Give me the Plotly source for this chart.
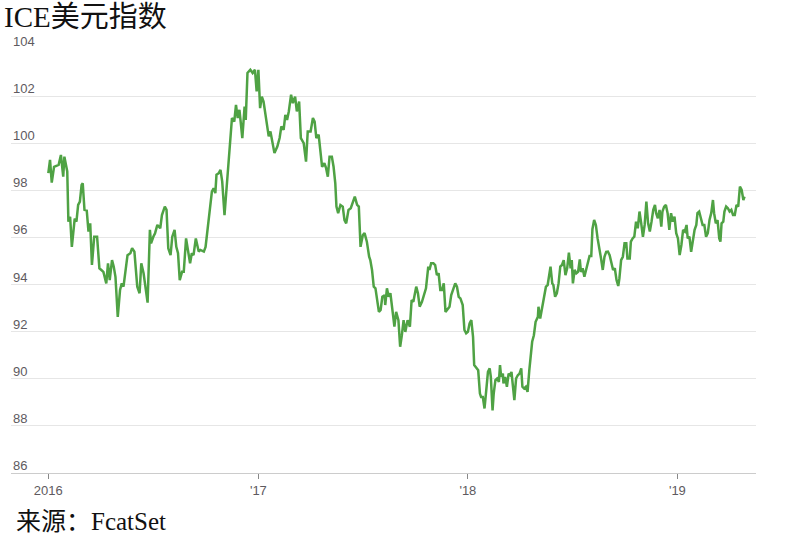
import pandas as pd
import plotly.graph_objects as go

# Days since 2016-01-01 and ICE dollar index values
day_offset = [
    0, 3, 6, 10, 18, 22, 26, 28, 33, 35, 38, 41, 46, 49, 52, 55, 58, 60, 63, 67,
    70, 73, 76, 80, 85, 89, 96, 101, 104, 107, 111, 114, 117, 121, 125, 128, 131, 134, 138, 143,
    146, 150, 155, 159, 162, 166, 170, 173, 177, 179, 183, 186, 190, 195, 198, 203, 206, 209, 213, 216,
    220, 223, 226, 229, 233, 236, 240, 243, 247, 250, 253, 257, 262,
    265, 271, 274, 277, 279, 282, 285, 288, 291, 293, 297, 300, 303, 307, 310, 313, 317, 320, 324, 327,
    330, 333, 336, 338, 342, 344, 347, 352, 356, 360, 363, 366, 369, 372, 375, 378, 381, 384, 387, 391,
    394, 399, 403, 406, 410, 413, 416, 419, 423, 426, 430, 433, 437, 440, 445, 449, 452, 457, 461, 464,
    467, 471, 474, 477, 481, 484, 487, 490, 494, 497, 500, 502, 505, 509, 513, 516, 519, 523, 527, 531,
    534, 538, 541, 544, 548, 551, 555, 559,
    561, 564, 567, 570, 573, 576, 579, 582, 586, 587, 590, 593, 596, 599, 601, 603, 606, 610, 613, 616,
    619, 622, 626, 630, 633, 636, 638, 641, 644, 647, 651, 654, 658, 662, 664, 667, 671, 674, 677, 680,
    683, 686, 689, 692, 696, 699, 702, 705, 709, 712, 715, 718, 722, 725, 728, 731, 734, 737, 740, 742,
    746, 749, 752, 754, 757, 760, 763, 766, 769, 771, 774, 776, 779, 782, 785, 787, 789, 792, 793, 796,
    799, 802,
    805, 807, 809, 812, 815, 818, 821, 824, 826, 829, 832, 835, 838, 840, 843, 846, 849, 853, 854, 857,
    860, 864, 867, 870, 875, 878, 880, 883, 886, 889, 892, 895, 898, 901, 904, 907, 910, 912, 914, 917,
    920, 923, 926, 928, 931, 934, 937, 940, 943, 946, 948, 951, 954, 957, 960, 963, 966, 969, 972, 975,
    978, 981, 984, 987, 990, 993, 995, 998, 1001, 1004, 1007, 1009, 1013, 1015, 1018, 1021, 1024, 1027, 1030, 1033,
    1036, 1039, 1042, 1045, 1048, 1051, 1054, 1057, 1059, 1062, 1065, 1068, 1070, 1073, 1076, 1079, 1082, 1085, 1088, 1091,
    1094, 1097, 1100, 1103, 1106, 1109, 1112, 1114, 1117, 1120, 1123, 1126, 1129, 1131, 1134, 1137, 1140, 1143, 1146, 1149,
    1152, 1155, 1158, 1160, 1163, 1166, 1169, 1171, 1173, 1176, 1178, 1181, 1184, 1187, 1190, 1193, 1196, 1199, 1202, 1205,
    1208, 1211, 1213,
]

index_values = [
    98.73, 99.29, 98.33, 99.00, 99.08, 99.50, 98.58, 99.43, 98.80, 96.67, 96.88, 95.60, 96.80, 96.67, 97.38, 97.52, 98.23, 98.30, 97.17, 97.14,
    96.25, 96.60, 94.83, 96.03, 96.03, 94.69, 94.54, 94.05, 94.90, 94.19, 95.04, 94.76, 94.33, 92.63, 93.77, 94.05, 93.91, 94.54, 95.25, 95.33,
    95.54, 95.40, 93.91, 93.63, 94.90, 94.48, 93.84, 93.23, 96.32, 95.75, 96.03, 96.18, 96.53, 96.39, 96.95, 97.31, 97.17, 95.54, 95.25, 96.03,
    96.32, 95.60, 95.33, 94.19, 94.54, 94.54, 95.96, 95.54, 94.90, 95.33, 95.25, 95.96, 95.40,
    95.47, 95.40, 95.60, 96.18, 96.74, 97.31, 97.95, 98.09, 97.88, 98.66, 98.73, 98.87, 98.37, 96.95, 97.88, 99.00, 100.14, 101.07, 100.92, 101.63,
    101.07, 101.42, 100.71, 100.22, 101.56, 100.99, 102.98, 103.12, 102.98, 103.12, 102.20, 103.12, 101.49, 101.98, 101.77, 101.28, 100.99, 100.29, 100.50, 99.93,
    99.58, 99.86, 100.22, 100.71, 100.57, 101.20, 100.99, 101.35, 102.06, 101.70, 101.98, 101.35, 101.77, 100.22, 100.00, 99.22, 100.50, 100.50, 101.07, 100.92,
    100.22, 100.36, 99.51, 99.00, 99.15, 98.94, 98.58, 99.43, 99.43, 99.00, 98.30, 97.31, 97.03, 97.38, 97.31, 96.74, 96.60, 97.17, 97.24, 97.52,
    97.73, 97.38, 97.31, 95.60, 96.10, 96.18, 95.82, 95.18,
    95.04, 94.62, 93.91, 93.84, 93.20, 92.84, 92.92, 93.48, 93.55, 93.13, 93.84, 93.48, 93.63, 93.13, 92.63, 92.21, 92.84, 92.49, 91.36, 91.85,
    92.49, 91.99, 92.49, 92.21, 93.34, 93.27, 93.48, 93.91, 93.63, 93.06, 93.27, 93.48, 93.84, 94.76, 94.62, 94.90, 94.90, 94.83, 94.40, 94.48,
    93.77, 93.77, 94.05, 92.84, 92.99, 93.06, 93.55, 93.77, 94.05, 93.91, 93.48, 93.41, 93.13, 92.07, 91.93, 91.99, 92.35, 92.49, 91.78, 90.58,
    90.44, 90.36, 89.37, 89.23, 89.23, 88.74, 89.51, 90.29, 90.44, 90.08, 88.66, 89.37, 89.94, 90.01, 89.87, 90.58, 90.08, 90.22, 89.80, 90.08,
    89.66, 90.22,
    90.15, 90.29, 89.80, 89.09, 90.01, 90.15, 90.22, 90.44, 89.66, 89.59, 89.66, 89.44, 90.36, 90.86, 91.57, 91.85, 92.42, 92.63, 93.06, 92.56,
    92.99, 93.55, 93.91, 93.98, 94.76, 94.05, 93.98, 93.48, 93.63, 94.05, 94.76, 94.83, 95.04, 94.40, 94.69, 95.35, 94.69, 95.04, 94.05, 94.62,
    94.48, 94.54, 95.07, 94.54, 94.69, 94.33, 94.62, 94.83, 95.21, 95.21, 96.35, 96.74, 96.53, 95.96, 95.60, 95.11, 94.62, 95.18, 95.39, 95.40,
    95.25, 94.97, 94.62, 94.69, 94.19, 93.94, 94.26, 95.04, 95.18, 95.75, 95.75, 95.11, 95.11, 95.82, 95.96, 96.03, 96.67, 96.39, 97.10, 96.60,
    96.03, 96.53, 97.52, 96.60, 96.25, 96.67, 97.17, 97.38, 97.03, 96.81, 97.17, 96.46, 97.10, 97.31, 97.38, 97.03, 96.32, 97.03, 96.67, 96.88,
    96.18, 95.96, 95.25, 95.68, 96.32, 96.25, 96.53, 95.96, 96.03, 95.39, 95.89, 96.32, 96.53, 97.03, 97.10, 96.81, 96.53, 96.53, 96.03, 96.18,
    96.74, 97.03, 97.59, 97.03, 96.60, 96.74, 95.96, 95.82, 96.60, 96.67, 97.10, 97.31, 97.24, 97.10, 97.17, 96.95, 96.95, 97.38, 97.31, 98.16,
    98.02, 97.59, 97.73,
]

tick_dates = ["2016-01-01", "2017-01-01", "2018-01-01", "2019-01-01"]
tick_labels = ["2016", "'17", "'18", "'19"]
y_ticks = [86, 88, 90, 92, 94, 96, 98, 100, 102, 104]

dates = pd.Timestamp("2016-01-01") + pd.to_timedelta(day_offset, unit="D")

fig = go.Figure()
fig.add_trace(go.Scatter(
    x=dates, y=index_values, mode="lines",
    line=dict(color="#4fa244", width=2.5),
    showlegend=False, hoverinfo="skip",
))

label_font = dict(family="Liberation Sans Narrow, Liberation Sans, Arial Narrow, sans-serif",
                  size=13, color="#5e5a60")

# y tick labels sit just above their gridlines, at the left of the plot
y_label_annotations = [
    dict(text=str(v), xref="paper", yref="y", x=0, y=v,
         xanchor="left", yanchor="bottom", xshift=0, yshift=-2,
         showarrow=False, font=label_font)
    for v in y_ticks
]

fig.update_layout(
    width=800, height=540,
    margin=dict(l=11, r=44, t=49, b=67),
    paper_bgcolor="white", plot_bgcolor="white",
    title=dict(
        text="ICE美元指数",
        font=dict(family="Liberation Serif, Noto Sans CJK SC, serif", size=29, color="#111111"),
        x=0.005, xref="container", xanchor="left",
        y=0.969, yref="container", yanchor="middle",
    ),
    xaxis=dict(
        type="date",
        range=["2015-10-28", "2019-05-18"],
        tickvals=tick_dates, ticktext=tick_labels,
        ticks="outside", ticklen=5, tickcolor="#888888", tickwidth=1,
        showline=True, linecolor="#cccccc", linewidth=1,
        showgrid=False, zeroline=False,
        tickfont=label_font,
    ),
    yaxis=dict(
        range=[86, 104],
        tickvals=y_ticks,
        ticks="", showline=False, zeroline=False,
        showgrid=True, gridcolor="#e6e6e6", gridwidth=1,
        showticklabels=False,
    ),
    annotations=y_label_annotations + [dict(
        text="来源：FcatSet",
        xref="paper", yref="paper", x=0, y=0,
        xanchor="left", yanchor="middle",
        xshift=3, yshift=-48,
        showarrow=False,
        font=dict(family="Liberation Serif, Noto Sans CJK SC, serif", size=25, color="#111111"),
    )],
)

fig.write_html("out.html")
